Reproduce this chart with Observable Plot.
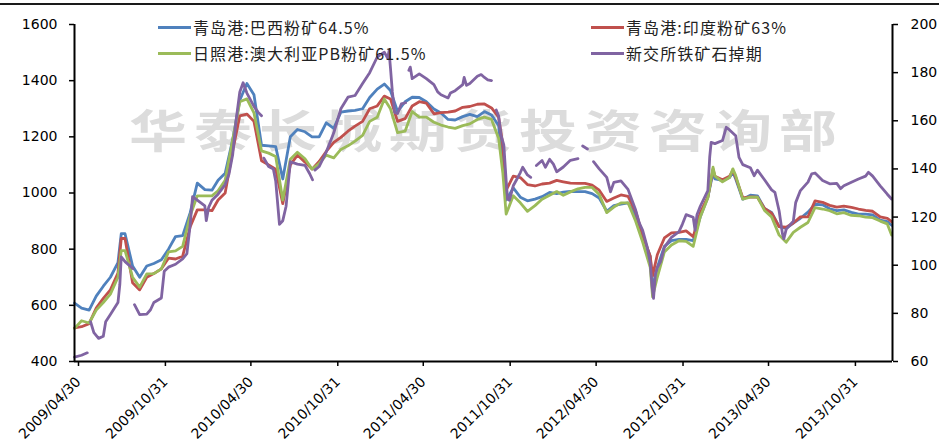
<!DOCTYPE html>
<html>
<head>
<meta charset="utf-8">
<script src="https://cdn.jsdelivr.net/npm/d3@7"></script>
<script src="https://cdn.jsdelivr.net/npm/@observablehq/plot@0.6"></script>
<style>
  body { margin: 0; background: #fff; }
  #wrap { position: relative; width: 939px; height: 448px; overflow: hidden; background: #fff; }
  #topline { position: absolute; left: 0; top: 3px; width: 939px; height: 2px; background: #1a1a1a; }
  #wm { position: absolute; left: 129px; top: 106px; font: bold 58px "Noto Sans CJK SC"; line-height: 1;
        color: #dcdcdc; letter-spacing: 7px; white-space: nowrap; transform: scaleY(0.78); transform-origin: top left; }
  #chart { position: absolute; left: 0; top: 0; }
  .lg { position: absolute; display: flex; align-items: center; height: 20px;
        font: 16px "Noto Sans CJK SC"; color: #222; letter-spacing: 1.1px; white-space: nowrap; }
  .lg span.sw { display: inline-block; width: 33px; height: 3px; margin-right: 2px; }
</style>
</head>
<body>
<div id="wrap">
  <div id="topline"></div>
  <div id="wm">华泰长城期货投资咨询部</div>
  <div id="chart"></div>
  <div id="legend"></div>
</div>
<script>
// ---------- data ----------
const dates = [
"2009-04-30","2009-05-15","2009-05-31","2009-06-15","2009-06-30","2009-07-15","2009-07-31","2009-08-07","2009-08-15","2009-08-31",
"2009-09-15","2009-09-30","2009-10-15","2009-10-31","2009-11-15","2009-11-30","2009-12-15","2009-12-31","2010-01-15","2010-01-31",
"2010-02-15","2010-02-28","2010-03-15","2010-03-31","2010-04-15","2010-04-30","2010-05-15","2010-05-31","2010-06-15","2010-06-30",
"2010-07-15","2010-07-31","2010-08-15","2010-08-31","2010-09-15","2010-09-30","2010-10-15","2010-10-31","2010-11-15","2010-11-30",
"2010-12-15","2010-12-31","2011-01-15","2011-01-31","2011-02-15","2011-02-28","2011-03-15","2011-03-31","2011-04-15","2011-04-30",
"2011-05-15","2011-05-31","2011-06-15","2011-06-30","2011-07-15","2011-07-31","2011-08-15","2011-08-31","2011-09-15","2011-09-30",
"2011-10-15","2011-10-24","2011-10-31","2011-11-15","2011-11-30","2011-12-15","2011-12-31","2012-01-15","2012-01-31","2012-02-15",
"2012-02-29","2012-03-15","2012-03-31","2012-04-15","2012-04-30","2012-05-15","2012-05-31","2012-06-15","2012-06-30","2012-07-15",
"2012-07-31","2012-08-15","2012-08-31","2012-09-05","2012-09-15","2012-09-30","2012-10-15","2012-10-31","2012-11-15","2012-11-30",
"2012-12-15","2012-12-31","2013-01-11","2013-01-15","2013-01-31","2013-02-15","2013-02-22","2013-02-28","2013-03-15","2013-03-31",
"2013-04-15","2013-04-30","2013-05-15","2013-05-31","2013-06-15","2013-06-30","2013-07-15","2013-07-31","2013-08-15","2013-08-31",
"2013-09-15","2013-09-30","2013-10-15","2013-10-31","2013-11-15","2013-11-30","2013-12-15","2013-12-31","2014-01-15","2014-01-24"];

const brazil645 = [
608,590,583,633,668,700,752,855,855,740,
700,740,749,762,800,845,848,930,1035,1012,
1010,1045,1070,1190,1330,1390,1350,1170,1168,1165,
1050,1200,1226,1218,1200,1200,1250,1230,1288,1292,
1294,1300,1340,1370,1388,1365,1290,1325,1341,1340,
1325,1299,1285,1262,1260,1272,1280,1272,1290,1278,
1240,1100,975,1018,985,972,978,987,1002,998,
1003,1006,1005,1005,998,982,935,955,960,965,
920,850,775,660,735,810,830,835,835,830,
915,985,1072,1050,1045,1055,1074,1050,978,992,
990,945,931,880,874,893,910,932,960,958,
944,937,940,931,925,925,922,903,898,885];

const india63 = [
520,524,535,590,625,655,715,838,838,680,
655,700,713,730,768,765,775,880,940,940,
937,975,1000,1150,1275,1281,1255,1115,1100,1085,
962,1100,1135,1110,1085,1112,1148,1180,1198,1220,
1238,1255,1300,1310,1345,1335,1255,1265,1310,1325,
1320,1282,1286,1288,1292,1305,1308,1316,1317,1303,
1270,1170,1010,1060,1055,1030,1025,1032,1035,1045,
1040,1035,1034,1034,1028,1010,970,982,993,988,
935,850,775,705,780,840,858,860,865,845,
930,985,1085,1060,1047,1060,1080,1056,983,986,
985,945,928,880,878,893,915,915,972,967,
956,950,953,949,943,938,935,915,910,898];

const australiaPB615 = [
518,545,537,583,610,640,700,795,795,700,
665,712,713,730,790,794,810,920,990,990,
990,1008,1045,1190,1325,1335,1285,1150,1142,1130,
975,1120,1145,1122,1085,1105,1135,1125,1155,1168,
1185,1205,1255,1270,1335,1300,1215,1220,1290,1270,
1270,1252,1242,1235,1230,1240,1246,1262,1270,1262,
1195,1070,925,990,965,935,955,978,992,1005,
992,1004,1015,1020,1020,995,930,950,965,965,
900,825,735,630,700,790,815,830,828,810,
915,982,1092,1060,1040,1055,1086,1062,978,985,
985,938,915,850,825,860,878,895,948,943,
937,926,930,920,919,914,912,900,890,850];

// SGX iron ore swap (right axis); null marks a break in the line
const swapDates = [
"2009-04-30","2009-05-15","2009-05-27","2009-05-31","2009-06-03","2009-06-10","2009-06-20","2009-06-30","2009-07-05","2009-07-15",
"2009-07-31","2009-08-04","2009-08-07","2009-08-15","2009-09-01","2009-09-02","2009-09-04","2009-09-15","2009-09-30","2009-10-08",
"2009-10-15","2009-10-31","2009-11-06","2009-11-15","2009-11-30","2009-12-15","2009-12-24","2009-12-31","2010-01-05","2010-01-15",
"2010-01-31","2010-02-03","2010-02-08","2010-02-15","2010-02-28","2010-03-15","2010-03-23","2010-03-31","2010-04-07","2010-04-15",
"2010-04-22","2010-04-30","2010-05-15","2010-05-24","2010-05-31","2010-06-02","2010-06-05","2010-06-15","2010-06-25","2010-06-30",
"2010-07-08","2010-07-15","2010-07-22","2010-07-31","2010-08-15","2010-08-31","2010-09-10","2010-09-16","2010-09-18","2010-09-21",
"2010-09-30","2010-10-15","2010-10-31","2010-11-15","2010-11-30","2010-12-15","2010-12-31","2011-01-15","2011-01-31","2011-02-15",
"2011-02-22","2011-02-25","2011-02-28","2011-03-04","2011-03-09","2011-03-15","2011-03-23","2011-04-01","2011-04-04","2011-04-08",
"2011-04-11","2011-04-15","2011-04-30","2011-05-15","2011-05-31","2011-06-08","2011-06-15","2011-06-30","2011-07-05","2011-07-15",
"2011-07-31","2011-08-03","2011-08-08","2011-08-15","2011-08-31","2011-09-08","2011-09-15","2011-09-22","2011-09-30","2011-10-05",
"2011-10-10","2011-10-15","2011-10-20","2011-10-26","2011-10-31","2011-11-03","2011-11-07","2011-11-15","2011-11-22","2011-11-30",
"2011-12-05","2011-12-15","2011-12-22","2011-12-28","2012-01-03","2012-01-15","2012-01-22","2012-01-31","2012-02-08","2012-02-15",
"2012-02-29","2012-03-15","2012-03-31","2012-04-05","2012-04-10","2012-04-20","2012-04-25","2012-05-03","2012-05-15","2012-05-31",
"2012-06-08","2012-06-15","2012-06-30","2012-07-15","2012-07-31","2012-08-08","2012-08-15","2012-08-24","2012-08-31","2012-09-04",
"2012-09-07","2012-09-11","2012-09-15","2012-09-22","2012-09-30","2012-10-15","2012-10-31","2012-11-07","2012-11-15","2012-11-30",
"2012-12-04","2012-12-08","2012-12-15","2012-12-31","2013-01-04","2013-01-07","2013-01-15","2013-01-31","2013-02-08","2013-02-15",
"2013-02-28","2013-03-07","2013-03-15","2013-03-31","2013-04-08","2013-04-15","2013-04-30","2013-05-15","2013-05-22","2013-05-31",
"2013-06-07","2013-06-10","2013-06-15","2013-06-30","2013-07-05","2013-07-15","2013-07-31","2013-08-08","2013-08-15","2013-08-31",
"2013-09-15","2013-09-30","2013-10-08","2013-10-15","2013-10-31","2013-11-15","2013-11-30","2013-12-06","2013-12-15","2013-12-31",
"2014-01-15","2014-01-24"];

const swapValues = [
61.8,62.6,63.6,null,76.5,72,69.6,70.5,76.5,79.5,
84.5,92,103.5,101.5,98.5,null,83.6,79.5,79.7,81.5,
84.5,86.4,97.5,99.2,100.4,102.6,104.8,117,128.5,127,
124.7,118.5,124,127,129.5,133.5,137.8,146,160,172,
175.8,171.5,166,163.5,162.1,null,144.5,141,140,135,
117,118.5,124.5,143,142,141.5,138,135.5,null,139.5,
141,147,155,165,169.8,170.5,175.5,180,186.5,188.5,
186,189,182,172,163.5,163,167,167.5,null,181,
182.3,177.5,179.5,177.5,175,172,170.8,169.5,171.5,172.5,
175,178,174.7,175.5,178.5,179.2,178,177,176.7,null,
164.5,162,154,150,135,127.5,127,133,135.5,138.5,
140.7,137.5,136.5,null,141.4,143.5,140.7,144,142,138.8,
140.8,143.6,144.3,null,149.5,148.3,null,143,140,136.5,
130.5,134.4,135,131.5,123,117.5,114.5,108,101,91,
86.2,96.3,99,101.5,107.4,111.6,114,117,121,119.9,
114.5,121,124.5,131,145,151,150.5,151.8,157.3,156.2,
153.8,144.8,141.8,140.5,137.2,139.5,135.5,131.3,130.3,122.5,
113,111,115,118.3,126,131,134.5,138,138.3,135.2,
133.8,134,131.8,133,134.5,135.8,137,138.6,137,133,
129.5,127.5];

const leftTicks = [400, 600, 800, 1000, 1200, 1400, 1600];
const rightTicks = [60, 80, 100, 120, 140, 160, 180, 200];
const xTickDates = ["2009-04-30","2009-10-31","2010-04-30","2010-10-31","2011-04-30","2011-10-31",
                    "2012-04-30","2012-10-31","2013-04-30","2013-10-31"];
const xDomain = ["2009-04-30", "2014-01-26"];

const seriesNames = ["青岛港:巴西粉矿64.5%", "青岛港:印度粉矿63%", "日照港:澳大利亚PB粉矿61.5%", "新交所铁矿石掉期"];
const seriesColors = ["#4F81BD", "#C0504D", "#9BBB59", "#8064A2"];

// ---------- build ----------
const parse = d3.utcParse("%Y-%m-%d");
const fmt = d3.utcFormat("%Y/%m/%d");
const leftMin = 400, leftMax = 1600, rightMin = 60, rightMax = 200;
const toLeft = r => r == null ? null : leftMin + (r - rightMin) * (leftMax - leftMin) / (rightMax - rightMin);
const toRight = l => Math.round(rightMin + (l - leftMin) * (rightMax - rightMin) / (leftMax - leftMin));

const mainRows = dates.map((d, i) => ({date: parse(d), b: brazil645[i], r: india63[i], g: australiaPB615[i]}));
const swapRows = swapDates.map((d, i) => ({date: parse(d), v: toLeft(swapValues[i])}));
const x0 = parse(xDomain[0]), x1 = parse(xDomain[1]);

const chart = Plot.plot({
  width: 939, height: 448,
  marginLeft: 74, marginRight: 47, marginTop: 24, marginBottom: 87,
  style: {fontFamily: "DejaVu Sans", fontSize: "14px", color: "#000", background: "transparent", overflow: "visible"},
  x: {type: "utc", domain: [x0, x1]},
  y: {domain: [leftMin, leftMax]},
  marks: [
    Plot.lineY(mainRows, {x: "date", y: "b", stroke: seriesColors[0], strokeWidth: 2.8}),
    Plot.lineY(mainRows, {x: "date", y: "r", stroke: seriesColors[1], strokeWidth: 2.8}),
    Plot.lineY(mainRows, {x: "date", y: "g", stroke: seriesColors[2], strokeWidth: 2.8}),
    Plot.lineY(swapRows, {x: "date", y: "v", stroke: seriesColors[3], strokeWidth: 2.8}),
    Plot.axisY(leftTicks, {anchor: "left", tickSize: 5, tickPadding: 12, label: null, strokeWidth: 1.5,
      tickFormat: d3.format("d"), fontSize: 14}),
    Plot.axisY(rightTicks.map(toLeft), {anchor: "right", tickSize: 5, tickPadding: 13, label: null,
      tickFormat: d => toRight(d), strokeWidth: 1.5, fontSize: 14}),
    Plot.axisX(xTickDates.map(parse), {tickSize: 5, tickPadding: 13, dx: 4, tickRotate: -45, label: null,
      tickFormat: fmt, strokeWidth: 1.5, fontSize: 14}),
    Plot.ruleX([x0, x1], {stroke: "#000", strokeWidth: 2}),
    Plot.ruleY([leftMin], {stroke: "#000", strokeWidth: 2})
  ]
});
document.getElementById("chart").appendChild(chart);

// legend (HTML, placed over the plot area like the reference)
const legendPos = [[158, 17], [591, 17], [158, 43], [591, 43]];
const legend = document.getElementById("legend");
seriesNames.forEach((name, i) => {
  const el = document.createElement("div");
  el.className = "lg";
  el.style.left = legendPos[i][0] + "px";
  el.style.top = legendPos[i][1] + "px";
  el.innerHTML = `<span class="sw" style="background:${seriesColors[i]}"></span><span>${name}</span>`;
  legend.appendChild(el);
});
</script>
</body>
</html>
